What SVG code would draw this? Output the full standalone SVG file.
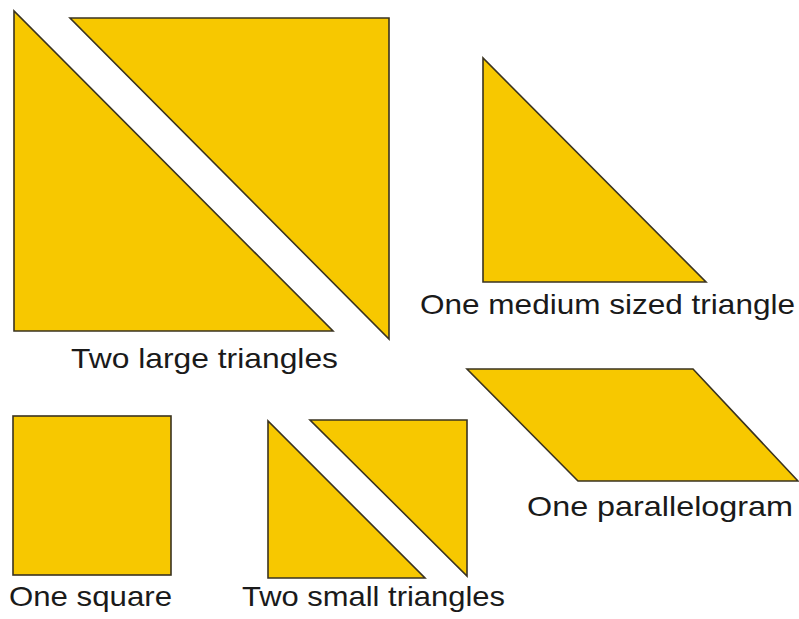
<svg xmlns="http://www.w3.org/2000/svg" width="799" height="619" viewBox="0 0 799 619">
<style>
.p{fill:#F7C800;stroke:#3a3320;stroke-width:1.6;stroke-linejoin:miter}
.t{font-family:"Liberation Sans",Arial,sans-serif;font-size:28px;fill:#1a1a1a}
</style>
<rect width="799" height="619" fill="#fff"/>
<g id="large-triangles">
<polygon class="p" points="14,11 14,331 333,331"/>
<polygon class="p" points="70,18 389,18 389,339"/>
<text class="t" x="71" y="368" textLength="267" lengthAdjust="spacingAndGlyphs">Two large triangles</text>
</g>
<g id="medium-triangle">
<polygon class="p" points="483,58 483,282 706,282"/>
<text class="t" x="420" y="314" textLength="375" lengthAdjust="spacingAndGlyphs">One medium sized triangle</text>
</g>
<g id="parallelogram">
<polygon class="p" points="467,369 693,369 798,481 578,481"/>
<text class="t" x="527" y="516" textLength="266" lengthAdjust="spacingAndGlyphs">One parallelogram</text>
</g>
<g id="square">
<rect class="p" x="13" y="416" width="158" height="159"/>
<text class="t" x="9" y="606" textLength="163" lengthAdjust="spacingAndGlyphs">One square</text>
</g>
<g id="small-triangles">
<polygon class="p" points="268,421 268,578 425,578"/>
<polygon class="p" points="310,420 467,420 467,576"/>
<text class="t" x="242" y="606" textLength="263" lengthAdjust="spacingAndGlyphs">Two small triangles</text>
</g>
</svg>
